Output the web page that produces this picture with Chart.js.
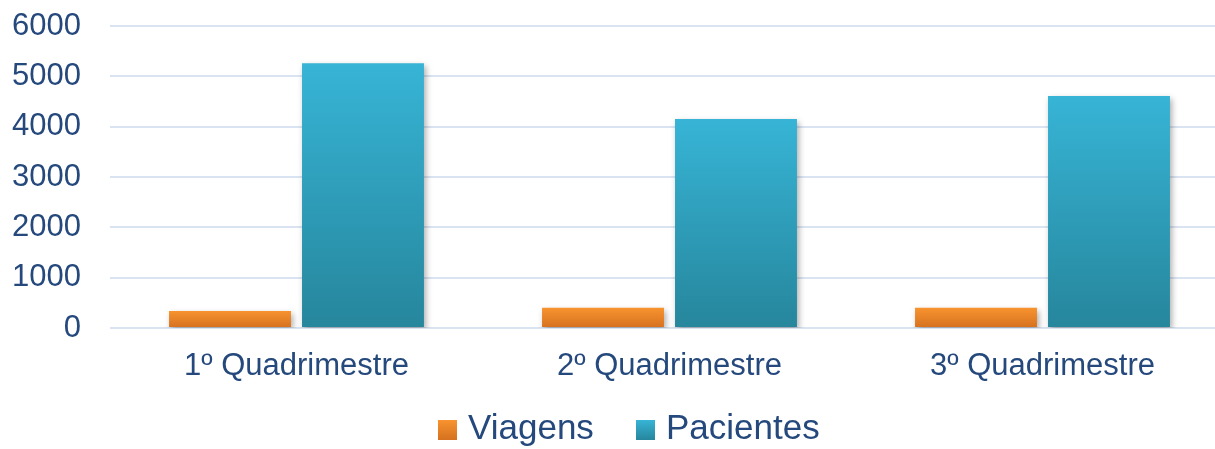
<!DOCTYPE html>
<html><head><meta charset="utf-8">
<script src="https://cdn.jsdelivr.net/npm/chart.js@4.4.1/dist/chart.umd.min.js"></script>
<style>
html,body{margin:0;padding:0;background:#fff;overflow:hidden;width:1215px;height:449px;position:relative;}
#wrap{position:absolute;left:0;top:0;width:1262px;height:449px;}
.leg{position:absolute;font-family:"Liberation Sans",Arial,sans-serif;font-size:35px;color:#25497C;line-height:35px;white-space:nowrap;}
.sw{position:absolute;width:19px;height:20px;}
</style></head><body>
<div id="wrap"><canvas id="c"></canvas></div>
<div id="legend"></div>
<script>
const categories = ['1º Quadrimestre', '2º Quadrimestre', '3º Quadrimestre'];
const seriesNames = ['Viagens', 'Pacientes'];
const viagens = [340, 400, 400];
const pacientes = [5260, 4150, 4610];
const yTicks = [0, 1000, 2000, 3000, 4000, 5000, 6000];

const textColor = '#25497C';
const orangeTop = '#F8932F', orangeBottom = '#D5711F';
const blueTop = '#37B4D6', blueBottom = '#26869C';

function grad(top, bottom) {
  return (ctx) => {
    const chart = ctx.chart;
    const ys = chart.scales && chart.scales.y;
    if (!ys || ctx.type !== 'data') return top;
    const v = ctx.parsed ? ctx.parsed.y : ctx.raw;
    const y0 = ys.getPixelForValue(v), y1 = ys.getPixelForValue(0);
    if (!isFinite(y0) || !isFinite(y1) || y0 === y1) return top;
    const g = chart.ctx.createLinearGradient(0, y0, 0, y1);
    g.addColorStop(0, top);
    g.addColorStop(1, bottom);
    return g;
  };
}

const shadow = {
  id: 'shadow',
  beforeDatasetsDraw(chart) {
    const c = chart.ctx;
    c.save();
    c.shadowColor = 'rgba(0,0,0,0.32)';
    c.shadowBlur = 6;
    c.shadowOffsetX = 2;
    c.shadowOffsetY = 3;
  },
  afterDatasetsDraw(chart) { chart.ctx.restore(); }
};

const font = { family: '"Liberation Sans", Arial, sans-serif', size: 31 };

new Chart(document.getElementById('c'), {
  type: 'bar',
  data: {
    labels: categories,
    datasets: [
      { label: seriesNames[0], data: viagens, backgroundColor: grad(orangeTop, orangeBottom),
        barPercentage: 0.917, categoryPercentage: 0.713 },
      { label: seriesNames[1], data: pacientes, backgroundColor: grad(blueTop, blueBottom),
        barPercentage: 0.917, categoryPercentage: 0.713 }
    ]
  },
  options: {
    responsive: true,
    maintainAspectRatio: false,
    animation: false,
    layout: { padding: { top: 26, bottom: 61, right: 33, left: 0 } },
    plugins: { legend: { display: false }, tooltip: { enabled: false } },
    scales: {
      x: {
        grid: { display: false, drawTicks: false },
        border: { display: false },
        ticks: { color: textColor, font: font, padding: 20 },
        afterFit(s) { s.height = 60; }
      },
      y: {
        min: 0, max: 6000,
        afterBuildTicks(s) { s.ticks = yTicks.map(v => ({ value: v })); },
        grid: { color: '#D9E3F1', lineWidth: 2, drawTicks: true, tickLength: 29, tickColor: 'rgba(0,0,0,0)' },
        border: { display: false },
        ticks: { color: textColor, font: font, padding: 0, callback: (v) => String(v) },
        afterFit(s) { s.width = 110; }
      }
    }
  },
  plugins: [shadow]
});

// HTML legend
const legend = document.getElementById('legend');
const legItems = [
  { name: seriesNames[0], sx: 438, tx: 468, g: [orangeTop, orangeBottom] },
  { name: seriesNames[1], sx: 636, tx: 666, g: [blueTop, blueBottom] }
];
legItems.forEach(it => {
  const sw = document.createElement('div');
  sw.className = 'sw';
  sw.style.left = it.sx + 'px';
  sw.style.top = '420px';
  sw.style.background = 'linear-gradient(' + it.g[0] + ',' + it.g[1] + ')';
  legend.appendChild(sw);
  const t = document.createElement('div');
  t.className = 'leg';
  t.style.left = it.tx + 'px';
  t.style.top = '409px';
  t.textContent = it.name;
  legend.appendChild(t);
});
</script>
</body></html>
